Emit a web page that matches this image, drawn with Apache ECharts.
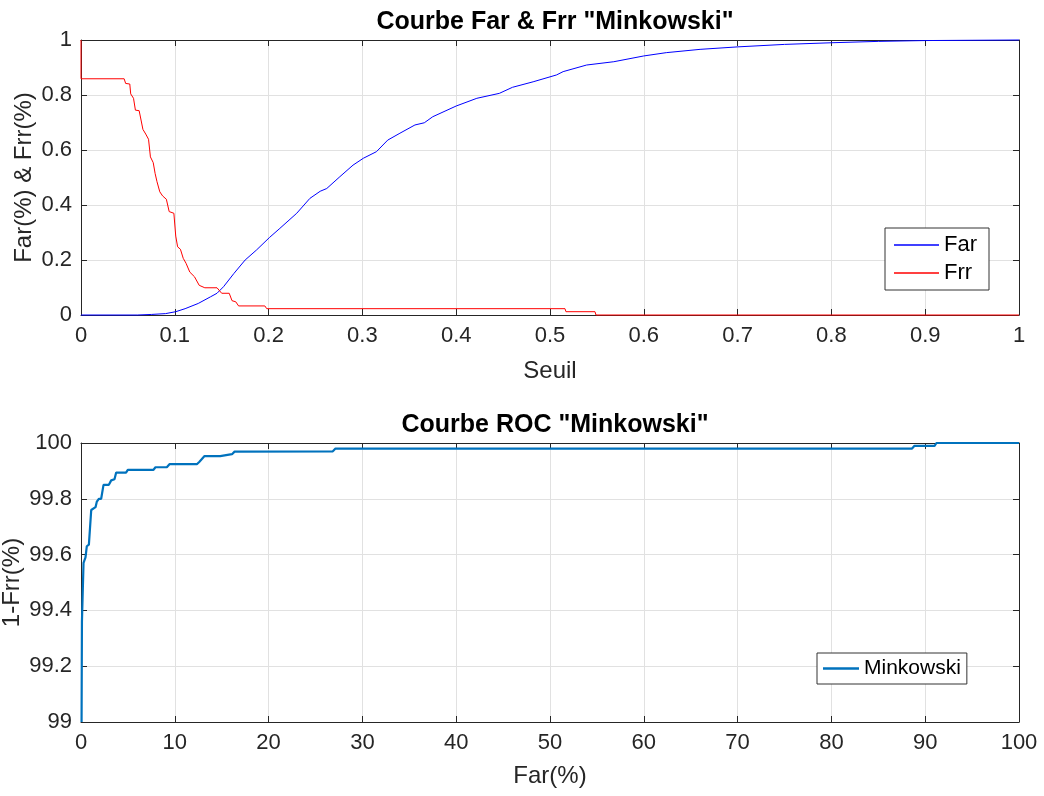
<!DOCTYPE html>
<html>
<head>
<meta charset="utf-8">
<script src="https://cdn.jsdelivr.net/npm/echarts@6/dist/echarts.min.js"></script>
<style>html,body{margin:0;padding:0;background:#fff;}#c{width:1044px;height:796px;}</style>
</head>
<body>
<div id="c"></div>
<script>
// ---- Data ----
const topTitle = 'Courbe Far & Frr "Minkowski"';
const bottomTitle = 'Courbe ROC "Minkowski"';
const seuilTicks = [0, 1, 0.1];      // min, max, step of threshold axis
const rateTicks = [0, 1, 0.2];       // min, max, step of Far/Frr axis
const farPctTicks = [0, 100, 10];
const rocTicks = [99, 100, 0.2];

// Far curve [threshold, Far]
const farData = [
  [0,0],[0.06,0],[0.075,0.002],[0.09,0.005],[0.101,0.012],[0.111,0.023],[0.125,0.042],
  [0.138,0.066],[0.145,0.079],[0.152,0.103],[0.163,0.151],[0.175,0.2],[0.187,0.236],
  [0.201,0.282],[0.212,0.315],[0.23,0.37],[0.244,0.424],[0.255,0.45],[0.262,0.46],
  [0.276,0.503],[0.29,0.545],[0.301,0.57],[0.315,0.594],[0.327,0.636],[0.34,0.661],
  [0.356,0.691],[0.366,0.699],[0.375,0.721],[0.4,0.76],[0.422,0.788],[0.446,0.806],
  [0.46,0.828],[0.482,0.848],[0.507,0.873],[0.514,0.885],[0.539,0.909],[0.568,0.921],
  [0.6,0.942],[0.624,0.954],[0.66,0.966],[0.7,0.975],[0.75,0.984],[0.8,0.99],
  [0.85,0.995],[0.9,0.998],[0.95,0.999],[1,1]
];
// Frr curve [threshold, Frr]
const frrData = [
  [0,1],[0,0.859],[0.046,0.859],[0.0476,0.842],[0.052,0.84],[0.053,0.804],[0.056,0.788],
  [0.058,0.745],[0.062,0.743],[0.064,0.709],[0.066,0.675],[0.069,0.658],[0.072,0.639],
  [0.074,0.575],[0.077,0.554],[0.079,0.515],[0.081,0.485],[0.084,0.448],[0.087,0.433],
  [0.091,0.421],[0.094,0.376],[0.099,0.37],[0.101,0.287],[0.103,0.248],[0.106,0.239],
  [0.109,0.206],[0.112,0.188],[0.116,0.156],[0.121,0.139],[0.126,0.108],[0.132,0.099],
  [0.145,0.099],[0.15,0.079],[0.158,0.079],[0.161,0.052],[0.165,0.048],[0.168,0.033],
  [0.196,0.033],[0.198,0.023],[0.516,0.023],[0.517,0.012],[0.548,0.012],[0.549,0],[1,0]
];
// ROC curve [Far(%), 1-Frr(%)]
const rocData = [
  [0.06,99.0],[0.1,99.36],[0.2,99.485],[0.27,99.57],[0.48,99.59],[0.62,99.63],[0.84,99.636],
  [1.09,99.76],[1.55,99.77],[1.69,99.79],[1.9,99.8],[2.15,99.8],[2.4,99.85],[2.97,99.85],
  [3.22,99.866],[3.57,99.87],[3.75,99.894],[4.8,99.894],[4.99,99.904],[7.73,99.904],
  [7.94,99.913],[9.15,99.913],[9.43,99.924],[12.35,99.924],[12.63,99.933],[13.17,99.953],
  [14.84,99.953],[15.05,99.96],[16.1,99.96],[16.37,99.969],[26.85,99.97],[27.13,99.98],
  [88.6,99.98],[88.86,99.99],[91.0,99.99],[91.2,100],[100,100]
];

// ---- Styling ----
const FONT = '"Liberation Sans", Arial, sans-serif';
const AX = '#262626';
const GRIDC = '#e1e1e1';

function mainX(grid, ticks, name, gap) {
  return {
    type: 'value', gridIndex: grid, min: ticks[0], max: ticks[1], interval: ticks[2],
    position: 'bottom',
    name: name, nameLocation: 'middle', nameGap: gap, nameMoveOverlap: false,
    nameTextStyle: { fontFamily: FONT, fontSize: 24, color: AX },
    axisLine: { show: true, onZero: false, lineStyle: { color: AX, width: 1 } },
    axisTick: { show: true, inside: true, length: 6, lineStyle: { color: AX } },
    axisLabel: { fontFamily: FONT, fontSize: 22, color: AX, margin: 10 },
    splitLine: { show: true, lineStyle: { color: GRIDC, width: 1 } }
  };
}
function mirrorX(grid, ticks) {
  return {
    type: 'value', gridIndex: grid, min: ticks[0], max: ticks[1], interval: ticks[2],
    position: 'top',
    axisLine: { show: true, onZero: false, lineStyle: { color: AX, width: 1 } },
    axisTick: { show: true, inside: true, length: 6, lineStyle: { color: AX } },
    axisLabel: { show: false }, splitLine: { show: false }
  };
}
function mainY(grid, ticks, name, gap) {
  return {
    type: 'value', gridIndex: grid, min: ticks[0], max: ticks[1], interval: ticks[2],
    position: 'left',
    name: name, nameLocation: 'middle', nameGap: gap, nameRotate: 90, nameMoveOverlap: false,
    nameTextStyle: { fontFamily: FONT, fontSize: 24, color: AX },
    axisLine: { show: true, onZero: false, lineStyle: { color: AX, width: 1 } },
    axisTick: { show: true, inside: true, length: 6, lineStyle: { color: AX } },
    axisLabel: { fontFamily: FONT, fontSize: 22, color: AX, margin: 9 },
    splitLine: { show: true, lineStyle: { color: GRIDC, width: 1 } }
  };
}
function mirrorY(grid, ticks) {
  return {
    type: 'value', gridIndex: grid, min: ticks[0], max: ticks[1], interval: ticks[2],
    position: 'right',
    axisLine: { show: true, onZero: false, lineStyle: { color: AX, width: 1 } },
    axisTick: { show: true, inside: true, length: 6, lineStyle: { color: AX } },
    axisLabel: { show: false }, splitLine: { show: false }
  };
}

const chart = echarts.init(document.getElementById('c'), null, { renderer: 'canvas' });
chart.setOption({
  backgroundColor: '#ffffff',
  animation: false,
  title: [
    { text: topTitle, left: 550, textAlign: 'center', top: 5,
      textStyle: { fontFamily: FONT, fontSize: 25, fontWeight: 'bold', color: '#000' } },
    { text: bottomTitle, left: 550, textAlign: 'center', top: 408,
      textStyle: { fontFamily: FONT, fontSize: 25, fontWeight: 'bold', color: '#000' } }
  ],
  grid: [
    { left: 81, top: 40, width: 938, height: 275, outerBoundsMode: 'none', containLabel: false },
    { left: 81, top: 443, width: 938, height: 279, outerBoundsMode: 'none', containLabel: false }
  ],
  xAxis: [
    mainX(0, seuilTicks, 'Seuil', 44),
    mirrorX(0, seuilTicks),
    mainX(1, farPctTicks, 'Far(%)', 42),
    mirrorX(1, farPctTicks)
  ],
  yAxis: [
    mainY(0, rateTicks, 'Far(%) & Frr(%)', 45),
    mirrorY(0, rateTicks),
    mainY(1, rocTicks, '1-Frr(%)', 57),
    mirrorY(1, rocTicks)
  ],
  legend: [
    { data: ['Far', 'Frr'], orient: 'vertical', left: 885, top: 228,
      padding: [6, 12, 6, 9], itemGap: 6, itemWidth: 45, itemHeight: 1.5, icon: 'rect',
      borderColor: '#333', borderWidth: 1, backgroundColor: '#fff', borderRadius: 0,
      textStyle: { fontFamily: FONT, fontSize: 22, color: '#000' } },
    { data: ['Minkowski'], orient: 'vertical', left: 817, top: 653,
      padding: [5, 6, 5, 6], itemGap: 6, itemWidth: 36, itemHeight: 2.5, icon: 'rect',
      borderColor: '#333', borderWidth: 1, backgroundColor: '#fff', borderRadius: 0,
      textStyle: { fontFamily: FONT, fontSize: 21, color: '#000' } }
  ],
  series: [
    { name: 'Far', type: 'line', xAxisIndex: 0, yAxisIndex: 0, data: farData,
      symbol: 'none', showSymbol: false, clip: false,
      lineStyle: { color: '#0000ff', width: 1 }, itemStyle: { color: '#0000ff' } },
    { name: 'Frr', type: 'line', xAxisIndex: 0, yAxisIndex: 0, data: frrData,
      symbol: 'none', showSymbol: false, clip: false,
      lineStyle: { color: '#ff0000', width: 1 }, itemStyle: { color: '#ff0000' } },
    { name: 'Minkowski', type: 'line', xAxisIndex: 2, yAxisIndex: 2, data: rocData,
      symbol: 'none', showSymbol: false, clip: false,
      lineStyle: { color: '#0072bd', width: 2.2 }, itemStyle: { color: '#0072bd' } }
  ]
});
</script>
</body>
</html>
